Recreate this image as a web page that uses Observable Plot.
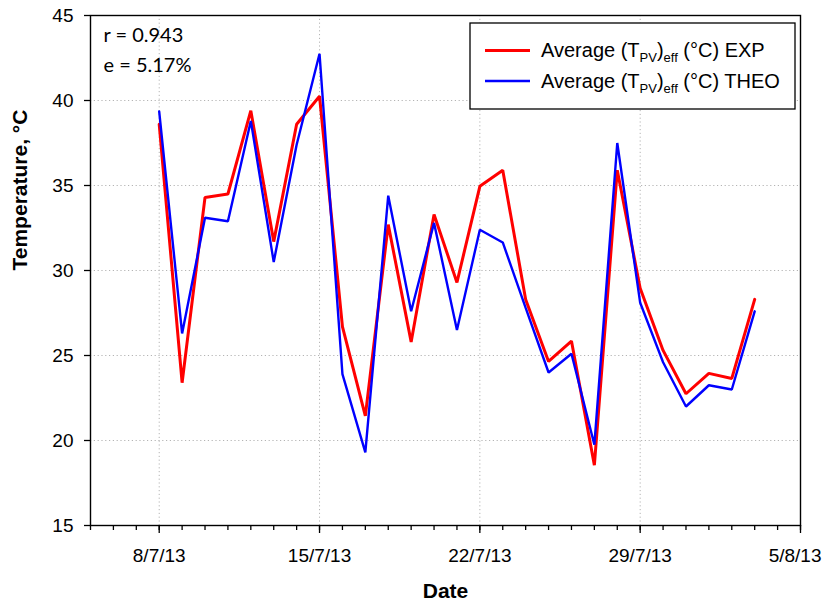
<!DOCTYPE html>
<html><head><meta charset="utf-8">
<script src="https://cdn.jsdelivr.net/npm/d3@7"></script>
<script src="https://cdn.jsdelivr.net/npm/@observablehq/plot@0.6"></script>
<style>body{margin:0;background:#fff} #chart{width:822px;height:612px}</style>
</head><body><div id="chart"></div>
<script>
const dates = ["2013-07-08","2013-07-09","2013-07-10","2013-07-11","2013-07-12","2013-07-13","2013-07-14",
  "2013-07-15","2013-07-16","2013-07-17","2013-07-18","2013-07-19","2013-07-20","2013-07-21",
  "2013-07-22","2013-07-23","2013-07-24","2013-07-25","2013-07-26","2013-07-27","2013-07-28",
  "2013-07-29","2013-07-30","2013-07-31","2013-08-01","2013-08-02","2013-08-03"];
const expValues = [38.6, 23.4, 34.3, 34.5, 39.4, 31.7, 38.6, 40.25, 26.7, 21.45, 32.7, 25.8, 33.3, 29.3,
  34.95, 35.9, 28.3, 24.65, 25.85, 18.55, 35.9, 28.95, 25.3, 22.75, 23.95, 23.65, 28.3];
const theoValues = [39.35, 26.3, 33.1, 32.9, 38.8, 30.5, 37.4, 42.75, 23.9, 19.3, 34.4, 27.6, 32.8, 26.5,
  32.4, 31.65, 27.8, 24.0, 25.1, 19.75, 37.5, 28.1, 24.6, 22.0, 23.25, 23.0, 27.6];
const yTicks = [15, 20, 25, 30, 35, 40, 45];
const xMajorTicks = ["2013-07-08","2013-07-15","2013-07-22","2013-07-29","2013-08-05"];
const xDomain = ["2013-07-05","2013-08-05"];
const stats = ["r = 0.943", "e = 5.17%"];

const parse = s => new Date(s + "T00:00:00Z");
const expRows = dates.map((d, i) => ({date: parse(d), value: expValues[i]}));
const theoRows = dates.map((d, i) => ({date: parse(d), value: theoValues[i]}));
const majors = xMajorTicks.map(parse);
const minors = d3.utcDay.range(parse(xDomain[0]), d3.utcDay.offset(parse(xDomain[1]), 1));
const fmt = d => `${d.getUTCDate()}/${d.getUTCMonth() + 1}/${String(d.getUTCFullYear()).slice(2)}`;
const gridStyle = {stroke: "#b4b4b4", strokeOpacity: 1, strokeWidth: 1, strokeDasharray: "1.2,2.6"};
const lastMajor = +majors[majors.length - 1];

const svg = Plot.plot({
  width: 822, height: 612,
  marginLeft: 90, marginRight: 22, marginTop: 15, marginBottom: 87,
  style: {fontFamily: "'Liberation Sans', Arial, sans-serif", fontSize: "19px", background: "white", color: "black"},
  x: {type: "utc", domain: xDomain.map(parse)},
  y: {domain: [15, 45]},
  marks: [
    Plot.gridY(yTicks.slice(1, -1), gridStyle),
    Plot.gridX(majors.slice(0, -1), gridStyle),
    Plot.axisY(yTicks, {tickSize: 6, tickPadding: 11, label: null, strokeWidth: 1.3, fontSize: 19}),
    Plot.axisX(minors, {tickSize: 5, tickFormat: () => "", label: null, strokeWidth: 1.3}),
    Plot.axisX(majors, {tickSize: 8, tickPadding: 15, label: null, strokeWidth: 1.3, fontSize: 19,
      tickFormat: d => (+d === lastMajor ? "" : fmt(d))}),
    Plot.axisX(majors.slice(-1), {tickSize: 0, tickPadding: 23, tickFormat: fmt, label: null,
      strokeOpacity: 0, fontSize: 19, textAnchor: "end", dx: 21}),
    Plot.lineY(expRows, {x: "date", y: "value", stroke: "#ff0000", strokeWidth: 3, strokeLinejoin: "miter"}),
    Plot.lineY(theoRows, {x: "date", y: "value", stroke: "#0000ff", strokeWidth: 2.4, strokeLinejoin: "miter"}),
    Plot.frame({stroke: "black", strokeWidth: 1.4}),
    Plot.text(["Temperature, °C"], {frameAnchor: "left", dx: -70, rotate: -90, fontWeight: "bold", fontSize: 21}),
    Plot.text(["Date"], {frameAnchor: "bottom", dy: 72, fontWeight: "bold", fontSize: 21}),
    Plot.text([stats[0]], {frameAnchor: "top-left", dx: 13, dy: 26, textAnchor: "start", lineAnchor: "bottom", fontFamily: "Lato", fontSize: 20}),
    Plot.text([stats[1]], {frameAnchor: "top-left", dx: 13, dy: 56, textAnchor: "start", lineAnchor: "bottom", fontFamily: "Lato", fontSize: 20})
  ]
});

// Legend inside the plot area
const lg = d3.select(svg).append("g")
  .attr("font-family", "'Liberation Sans', Arial, sans-serif").attr("font-size", 20).attr("text-anchor", "start");
lg.append("rect").attr("x", 470).attr("y", 23).attr("width", 325).attr("height", 86)
  .attr("fill", "white").attr("stroke", "black").attr("stroke-width", 1.3);
const colors = ["#ff0000", "#0000ff"];
const suffix = ["EXP", "THEO"];
[0, 1].forEach(i => {
  const cy = 50.5 + i * 30.5;
  lg.append("line").attr("x1", 485).attr("x2", 530).attr("y1", cy).attr("y2", cy)
    .attr("stroke", colors[i]).attr("stroke-width", i === 0 ? 3 : 2.4);
  const t = lg.append("text").attr("x", 541).attr("y", cy + 6.5).attr("fill", "black");
  t.append("tspan").text("Average (T");
  t.append("tspan").attr("font-size", 13).attr("dy", 5).text("PV");
  t.append("tspan").attr("dy", -5).text(")");
  t.append("tspan").attr("font-size", 13).attr("dy", 5).text("eff");
  t.append("tspan").attr("dy", -5).text(" (°C) " + suffix[i]);
});

document.getElementById("chart").appendChild(svg);
</script>
</body></html>
